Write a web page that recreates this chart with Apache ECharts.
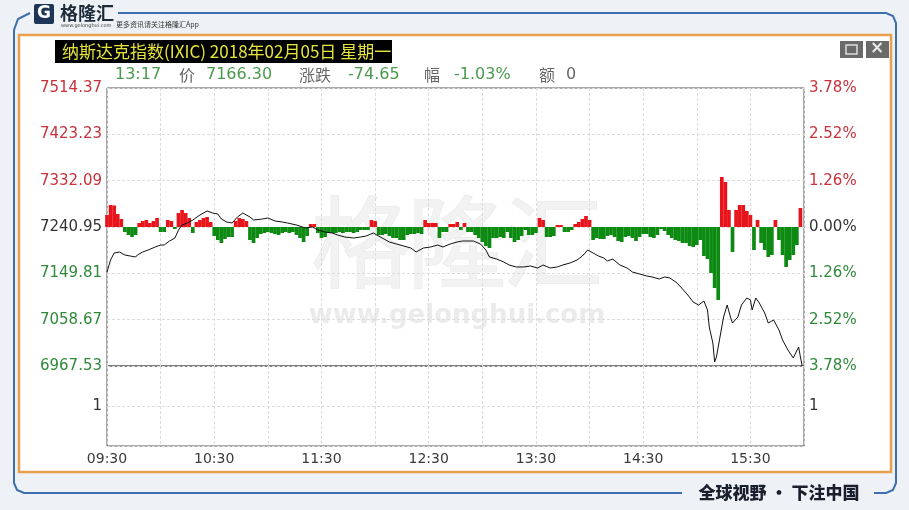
<!DOCTYPE html>
<html><head><meta charset="utf-8">
<script src="https://cdn.jsdelivr.net/npm/echarts@6/dist/echarts.min.js"></script>
<style>html,body{margin:0;padding:0;background:#eef1f5}#c{width:909px;height:510px}</style>
</head><body><div id="c"></div>
<script>
// ---------- data ----------
const prevClose = 7240.95;
const priceStep = 91.14;
const leftTickLabels = ['6967.53','7058.67','7149.81','7240.95','7332.09','7423.23','7514.37'];
const rightTickLabels = ['3.78%','2.52%','1.26%','0.00%','1.26%','2.52%','3.78%'];
const timeLabels = ['09:30','10:30','11:30','12:30','13:30','14:30','15:30'];

const lineMinutes = [0,2,4,7,10,13,16,17,20,23,27,30,32,35,38,40,42,45,48,52,56,59,62,64,67,70,73,76,77,80,82,87,90,94,98,101,106,111,115,118,122,126,129,133,138,142,145,149,151,154,158,162,166,170,173,177,181,185,188,192,196,199,205,209,212,214,218,222,225,229,233,237,241,244,248,252,255,259,263,266,269,272,275,278,280,283,287,291,294,298,302,305,309,312,315,319,322,325,328,331,334,336,337,339,340,341,343,345,347,349,350,353,355,358,360,361,363,365,368,370,373,376,378,381,384,387,388,389];
const linePrices = [7152.4,7176.0,7189.8,7191.8,7185.9,7183.9,7181.9,7185.9,7191.8,7195.7,7201.6,7205.5,7205.5,7213.4,7219.3,7235.0,7244.9,7248.8,7254.7,7264.6,7272.4,7268.5,7266.5,7256.7,7250.8,7248.8,7260.6,7268.5,7268.5,7260.6,7254.7,7256.7,7258.7,7252.8,7250.8,7248.8,7244.9,7239.0,7240.9,7235.0,7231.1,7229.1,7225.2,7221.3,7219.3,7221.3,7223.2,7229.1,7225.2,7219.3,7211.5,7207.5,7203.6,7199.6,7191.8,7199.6,7201.6,7205.5,7201.6,7207.5,7211.5,7213.4,7213.4,7207.5,7195.7,7181.9,7178.0,7172.1,7166.2,7162.3,7162.3,7164.2,7160.3,7166.2,7160.3,7162.3,7166.2,7170.1,7176.0,7183.9,7195.7,7189.8,7183.9,7180.0,7174.1,7178.0,7166.2,7160.3,7152.4,7148.5,7144.6,7142.6,7138.7,7142.6,7140.6,7130.8,7119.0,7107.2,7093.4,7087.5,7095.4,7077.7,7044.2,7012.8,6975.4,6985.2,7024.6,7063.9,7087.5,7062.0,7052.1,7063.9,7087.5,7101.3,7097.4,7077.7,7101.3,7091.5,7071.8,7052.1,7058.0,7038.4,7018.7,6999.0,6983.3,7004.9,6985.2,6967.5];

const barMinutes = [0,2,4,6,8,10,12,14,16,18,20,22,24,26,28,30,32,34,36,38,40,42,44,46,48,50,52,54,56,58,60,62,64,66,68,70,72,74,76,78,80,82,84,86,88,90,92,94,96,98,100,102,104,106,108,110,112,114,116,118,120,122,124,126,128,130,132,134,136,138,140,142,144,146,148,150,152,154,156,158,160,162,164,166,168,170,172,174,176,178,180,182,184,186,188,190,192,194,196,198,200,202,204,206,208,210,212,214,216,218,220,222,224,226,228,230,232,234,236,238,240,242,244,246,248,250,252,254,256,258,260,262,264,266,268,270,272,274,276,278,280,282,284,286,288,290,292,294,296,298,300,302,304,306,308,310,312,314,316,318,320,322,324,326,328,330,332,334,336,338,340,342,344,346,348,350,352,354,356,358,360,362,364,366,368,370,372,374,376,378,380,382,384,386,388];
const barValues = [23.6,43.3,42.3,25.6,15.7,-9.8,-15.7,-19.7,-15.7,7.9,11.8,13.8,7.9,11.8,17.7,-9.8,-9.8,13.8,11.8,-3.9,27.5,33.4,27.5,17.7,-11.8,9.8,13.8,17.7,19.7,9.8,-17.7,-25.6,-31.5,-23.6,-19.7,-19.7,11.8,17.7,15.7,11.8,-25.6,-31.5,-21.6,-13.8,-11.8,-9.8,-11.8,-13.8,-15.7,-11.8,-9.8,-11.8,-9.8,-15.7,-21.6,-29.5,-17.7,5.9,5.9,-11.8,-21.6,-19.7,-11.8,-11.8,-11.8,-9.8,-11.8,-9.8,-9.8,-11.8,-9.8,-5.9,-5.9,-5.9,13.8,11.8,-15.7,-15.7,-13.8,-17.7,-21.6,-21.6,-25.6,-25.6,-15.7,-13.8,-13.8,-11.8,-13.8,13.8,7.9,7.9,7.9,-21.6,-9.8,-9.8,5.9,5.9,9.8,-5.9,7.9,-9.8,-9.8,-15.7,-21.6,-29.5,-37.4,-41.3,-21.6,-21.6,-19.7,-21.6,-9.8,-21.6,-29.5,-25.6,-17.7,-5.9,-15.7,-15.7,-11.8,17.7,13.8,-19.7,-19.7,-17.7,3.9,3.9,-9.8,-9.8,-5.9,5.9,9.8,15.7,21.6,13.8,-25.6,-21.6,-23.6,-23.6,-17.7,-15.7,-19.7,-27.5,-29.5,-19.7,-17.7,-21.6,-27.5,-19.7,-13.8,-13.8,-19.7,-21.6,-15.7,-3.9,-7.9,-15.7,-21.6,-25.6,-27.5,-31.5,-31.5,-37.4,-39.3,-35.4,-25.6,-57.0,-62.9,-90.5,-120.0,-143.6,98.4,88.5,33.4,-49.2,33.4,43.3,43.3,31.5,23.6,-45.2,13.8,-31.5,-45.2,-59.0,-55.1,13.8,-25.6,-55.1,-78.7,-64.9,-55.1,-35.4,37.4];

// ---------- chart ----------
const RED = '#e8141c', GREEN = '#0d8a12';
const LRED = '#c8323a', LGREEN = '#2f8a3a', DARK = '#333';
const FONT = 'DejaVu Sans';

const lineData = lineMinutes.map((m, i) => [m, (linePrices[i] - prevClose) / priceStep]);
const barData = barMinutes.map((m, i) => ({
  value: [m, barValues[i] / priceStep],
  itemStyle: { color: barValues[i] >= 0 ? RED : GREEN }
}));

const splitStyle = { show: true, lineStyle: { color: '#dcdcdc', type: [3, 2], width: 1 } };
const labelColor = v => { v = parseFloat(v); return v > 0.001 ? LRED : (v < -0.001 ? LGREEN : DARK); };

const chart = echarts.init(document.getElementById('c'));
chart.setOption({
  backgroundColor: '#eef1f5',
  animation: false,
  grid: [
    { left: 107, top: 88, width: 697, height: 278, show: true, borderColor: '#555', borderWidth: 1, backgroundColor: 'transparent' },
    { left: 107, top: 366, width: 697, height: 80, show: true, borderColor: '#555', borderWidth: 1, backgroundColor: 'transparent' }
  ],
  xAxis: [
    { type: 'value', gridIndex: 0, min: 0, max: 390, interval: 30, axisLine: { show: false }, axisTick: { show: false }, axisLabel: { show: false }, splitLine: splitStyle },
    { type: 'value', gridIndex: 1, min: 0, max: 390, interval: 30, axisLine: { show: false }, axisTick: { show: false },
      axisLabel: { show: true, margin: 6, color: '#3a3a3a', fontFamily: FONT, fontSize: 14,
        formatter: v => (v % 60 === 0 && timeLabels[v / 60]) ? timeLabels[v / 60] : '' },
      splitLine: splitStyle }
  ],
  yAxis: [
    { type: 'value', gridIndex: 0, position: 'left', min: -3, max: 3, interval: 1, axisLine: { show: false }, axisTick: { show: false },
      axisLabel: { margin: 5, fontFamily: FONT, fontSize: 15, color: labelColor, formatter: v => leftTickLabels[Math.round(v) + 3] },
      splitLine: splitStyle },
    { type: 'value', gridIndex: 0, position: 'right', min: -3, max: 3, interval: 1, axisLine: { show: false }, axisTick: { show: false },
      axisLabel: { margin: 5, fontFamily: FONT, fontSize: 15, color: labelColor, formatter: v => rightTickLabels[Math.round(v) + 3] },
      splitLine: { show: false } },
    { type: 'value', gridIndex: 1, position: 'left', min: 0, max: 2, interval: 1, axisLine: { show: false }, axisTick: { show: false },
      axisLabel: { margin: 5, fontFamily: FONT, fontSize: 15, color: DARK, formatter: v => (v === 1 ? '1' : '') },
      splitLine: splitStyle },
    { type: 'value', gridIndex: 1, position: 'right', min: 0, max: 2, interval: 1, axisLine: { show: false }, axisTick: { show: false },
      axisLabel: { margin: 5, fontFamily: FONT, fontSize: 15, color: DARK, formatter: v => (v === 1 ? '1' : '') },
      splitLine: { show: false } }
  ],
  series: [
    { type: 'bar', xAxisIndex: 0, yAxisIndex: 0, data: barData, barWidth: 3.7, z: 2, silent: true },
    { type: 'line', xAxisIndex: 0, yAxisIndex: 0, data: lineData, showSymbol: false, z: 3, silent: true,
      lineStyle: { color: '#111', width: 1 } }
  ],
  graphic: [
    // page frame
    { type: 'rect', z: -20, shape: { x: 19, y: 35, width: 872, height: 437 }, style: { fill: '#fff', stroke: '#e9a04e', lineWidth: 2.5 } },
    { type: 'polyline', z: -19, shape: { points: [[118,13],[886,13],[893,16],[896,23],[896,483],[893,490],[886,493],[874,493]] }, style: { fill: null, stroke: '#3d6fae', lineWidth: 2 } },
    { type: 'polyline', z: -19, shape: { points: [[682,493],[24,493],[17,490],[14,483],[14,30],[18,19],[30,13]] }, style: { fill: null, stroke: '#3d6fae', lineWidth: 2 } },
    // logo
    { type: 'rect', z: -18, shape: { x: 34, y: 4, width: 20, height: 20, r: 2 }, style: { fill: '#1d3557' } },
    { type: 'text', z: -17, style: { x: 44, y: 14, text: 'G', fill: '#fff', font: 'bold 17px "DejaVu Sans"', textAlign: 'center', textVerticalAlign: 'middle' } },
    { type: 'text', z: -17, style: { x: 60, y: 13, text: '格隆汇', fill: '#1d2a3a', font: 'bold 18px "Noto Sans CJK SC"', textVerticalAlign: 'middle' } },
    { type: 'text', z: -17, style: { x: 61, y: 26, text: 'www.gelonghui.com', fill: '#444', font: '5px "DejaVu Sans"', textVerticalAlign: 'middle' } },
    { type: 'text', z: -17, style: { x: 116, y: 24, text: '更多资讯请关注格隆汇App', fill: '#333', font: '7px "Noto Sans CJK SC"', textVerticalAlign: 'middle' } },
    // footer
    { type: 'rect', z: -18, shape: { x: 684, y: 482, width: 188, height: 22 }, style: { fill: '#eef1f5' } },
    { type: 'text', z: -17, style: { x: 779, y: 493, text: '全球视野 • 下注中国', fill: '#1a1f2e', font: '900 17px "Noto Sans CJK SC"', textAlign: 'center', textVerticalAlign: 'middle' } },
    // window buttons
    { type: 'rect', z: -17, shape: { x: 840, y: 41, width: 23, height: 17 }, style: { fill: '#6a6a6a' } },
    { type: 'rect', z: -16, shape: { x: 846, y: 45, width: 11, height: 9 }, style: { fill: null, stroke: '#ddd', lineWidth: 1.5 } },
    { type: 'rect', z: -17, shape: { x: 866, y: 41, width: 23, height: 17 }, style: { fill: '#6a6a6a' } },
    { type: 'text', z: -16, style: { x: 877, y: 49, text: '×', fill: '#e8e8e8', font: 'bold 17px "DejaVu Sans"', textAlign: 'center', textVerticalAlign: 'middle' } },
    // title
    { type: 'rect', z: -17, shape: { x: 55, y: 40, width: 337, height: 23 }, style: { fill: '#000' } },
    { type: 'text', z: -16, style: { x: 62, y: 52, text: '纳斯达克指数(IXIC) 2018年02月05日 星期一', fill: '#e4e43c', font: '17px "Noto Sans CJK SC"', textVerticalAlign: 'middle' } },
    // header values
    { type: 'text', z: -16, style: { x: 115, y: 75, text: '13:17', fill: '#4a9a4e', font: '16px "DejaVu Sans"', textVerticalAlign: 'middle' } },
    { type: 'text', z: -16, style: { x: 179, y: 75, text: '价', fill: '#666', font: '16px "Noto Sans CJK SC"', textVerticalAlign: 'middle' } },
    { type: 'text', z: -16, style: { x: 206, y: 75, text: '7166.30', fill: '#4a9a4e', font: '16px "DejaVu Sans"', textVerticalAlign: 'middle' } },
    { type: 'text', z: -16, style: { x: 299, y: 75, text: '涨跌', fill: '#666', font: '16px "Noto Sans CJK SC"', textVerticalAlign: 'middle' } },
    { type: 'text', z: -16, style: { x: 348, y: 75, text: '-74.65', fill: '#4a9a4e', font: '16px "DejaVu Sans"', textVerticalAlign: 'middle' } },
    { type: 'text', z: -16, style: { x: 424, y: 75, text: '幅', fill: '#666', font: '16px "Noto Sans CJK SC"', textVerticalAlign: 'middle' } },
    { type: 'text', z: -16, style: { x: 454, y: 75, text: '-1.03%', fill: '#4a9a4e', font: '16px "DejaVu Sans"', textVerticalAlign: 'middle' } },
    { type: 'text', z: -16, style: { x: 539, y: 75, text: '额', fill: '#666', font: '16px "Noto Sans CJK SC"', textVerticalAlign: 'middle' } },
    { type: 'text', z: -16, style: { x: 566, y: 75, text: '0', fill: '#666', font: '16px "DejaVu Sans"', textVerticalAlign: 'middle' } },
    // watermark
    { type: 'text', z: -15, style: { x: 361, y: 242, text: '格', fill: '#f2f2f2', stroke: '#e6e6e6', lineWidth: 1, font: '100px "Noto Sans CJK SC"', textAlign: 'center', textVerticalAlign: 'middle' } },
    { type: 'text', z: -15, style: { x: 457, y: 242, text: '隆', fill: '#f2f2f2', stroke: '#e6e6e6', lineWidth: 1, font: '100px "Noto Sans CJK SC"', textAlign: 'center', textVerticalAlign: 'middle' } },
    { type: 'text', z: -15, style: { x: 553, y: 242, text: '汇', fill: '#f2f2f2', stroke: '#e6e6e6', lineWidth: 1, font: '100px "Noto Sans CJK SC"', textAlign: 'center', textVerticalAlign: 'middle' } },
    { type: 'text', z: -15, style: { x: 457, y: 316, text: 'www.gelonghui.com', fill: '#ebebeb', font: 'bold 26px "DejaVu Sans"', textAlign: 'center', textVerticalAlign: 'middle' } }
  ]
});
</script>
</body></html>
